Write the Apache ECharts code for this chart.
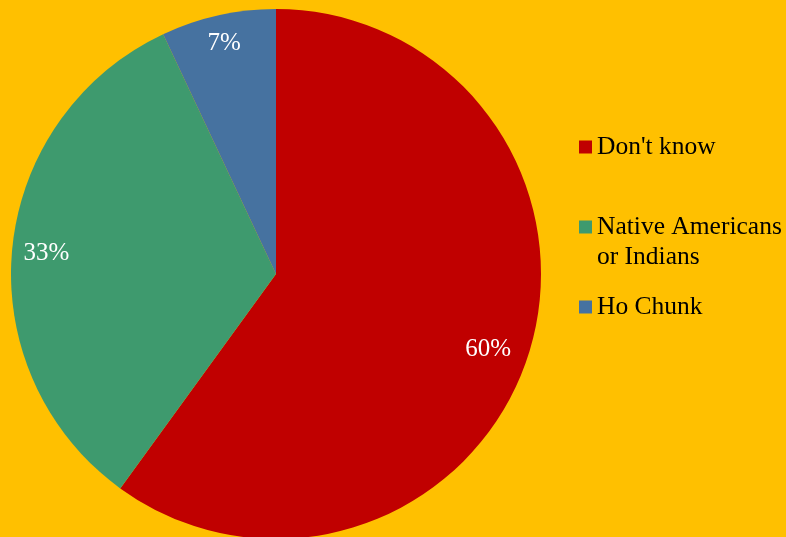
<!DOCTYPE html>
<html>
<head>
<meta charset="utf-8">
<script src="https://cdn.jsdelivr.net/npm/echarts@6/dist/echarts.min.js"></script>
<style>
  html, body { margin: 0; padding: 0; background: #FFC000; }
  #chart { width: 786px; height: 537px; }
</style>
</head>
<body>
<div id="chart"></div>
<script>
// Survey answers and their shares (percent)
const categories = ["Don't know", "Native Americans or Indians", "Ho Chunk"];
const legendLabels = ["Don't know", "\nNative Americans\nor Indians", "Ho Chunk"];
const shares = [60, 33, 7];
const colors = ['#C00000', '#3E9A6E', '#4672A0'];

const FONT = 'Liberation Serif';
// small nudges for the percentage labels
const labelNudges = [[-9, 4], [2, 1], [-1, -4]];

function draw() {
  const sliceData = categories.map((name, i) => ({ name, value: shares[i], itemStyle: { color: colors[i] } }));

  // one legend per entry; the two-line entry gets a blank first line so its
  // marker lines up with "Native Americans"
  const legendTops = [127, 177, 287];
  const legends = categories.map((name, i) => ({
    data: [name],
    left: 574,
    top: legendTops[i],
    orient: 'vertical',
    icon: 'rect',
    itemWidth: 13,
    itemHeight: 13,
    itemGap: 0,
    selectedMode: false,
    formatter: () => legendLabels[i],
    textStyle: {
      fontFamily: FONT,
      fontSize: 25.5,
      color: '#000',
      lineHeight: 30
    }
  }));

  const chart = echarts.init(document.getElementById('chart'), null, { renderer: 'canvas' });
  chart.setOption({
    backgroundColor: '#FFC000',
    animation: false,
    textStyle: { fontFamily: FONT },
    legend: legends,
    series: [
      {
        type: 'pie',
        center: [276, 274],
        radius: [0, 265],
        startAngle: 90,
        clockwise: true,
        silent: true,
        label: { show: false },
        labelLine: { show: false },
        itemStyle: { borderWidth: 0 },
        data: sliceData
      },
      {
        // ring carrying the percentage labels near the rim
        type: 'pie',
        center: [276, 274],
        radius: [194, 265],
        startAngle: 90,
        clockwise: true,
        silent: true,
        itemStyle: { color: 'rgba(0,0,0,0)', borderWidth: 0 },
        label: {
          show: true,
          position: 'inside',
          formatter: p => p.value + '%',
          fontFamily: FONT,
          fontSize: 25,
          color: '#fff'
        },
        labelLine: { show: false },
        data: categories.map((name, i) => ({
          name,
          value: shares[i],
          label: { offset: labelNudges[i] }
        }))
      }
    ]
  });
}

if (document.fonts && document.fonts.load) {
  document.fonts.load('25px "Liberation Serif"').then(draw, draw);
} else {
  draw();
}
</script>
</body>
</html>
